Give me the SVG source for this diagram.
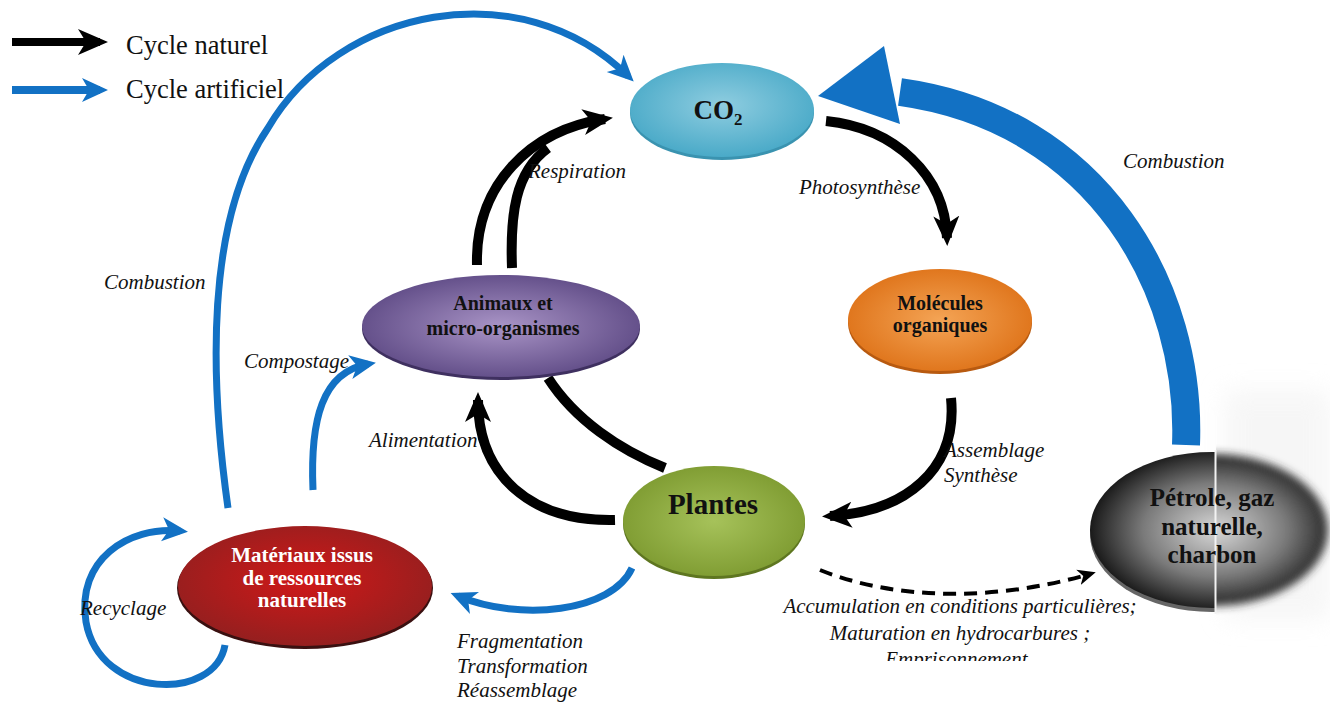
<svg xmlns="http://www.w3.org/2000/svg" width="1330" height="702" viewBox="0 0 1330 702">
<style>
.lbl{font-family:"Liberation Serif","Times New Roman",serif;font-style:italic;font-size:21px;fill:#111}
.leg{font-family:"Liberation Serif","Times New Roman",serif;font-size:26.5px;fill:#111}
.nt{font-family:"Liberation Serif","Times New Roman",serif;font-weight:bold;fill:#111;text-anchor:middle}
.blk{fill:none;stroke:#000;stroke-width:10}
.blu{fill:none;stroke:#1271c4;stroke-width:7}
</style>
<defs>
<radialGradient id="gCO2" cx="50%" cy="45%" r="55%"><stop offset="0" stop-color="#8fcde0"/><stop offset="1" stop-color="#4aaac8"/></radialGradient>
<radialGradient id="gAni" cx="50%" cy="50%" r="55%"><stop offset="0" stop-color="#a994c6"/><stop offset="1" stop-color="#5e4a85"/></radialGradient>
<radialGradient id="gMol" cx="50%" cy="50%" r="55%"><stop offset="0" stop-color="#f4a455"/><stop offset="1" stop-color="#de7218"/></radialGradient>
<radialGradient id="gPla" cx="50%" cy="50%" r="55%"><stop offset="0" stop-color="#a6c25a"/><stop offset="1" stop-color="#7d9a30"/></radialGradient>
<radialGradient id="gMat" cx="50%" cy="45%" r="55%"><stop offset="0" stop-color="#d01818"/><stop offset="1" stop-color="#951f1f"/></radialGradient>
<radialGradient id="gPet" cx="52%" cy="50%" r="55%"><stop offset="0" stop-color="#d8d8d8"/><stop offset="0.55" stop-color="#7a7a7a"/><stop offset="1" stop-color="#0c0c0c"/></radialGradient>
<filter id="blur" x="-20%" y="-20%" width="140%" height="140%"><feGaussianBlur stdDeviation="4"/></filter>
<filter id="soft" x="-30%" y="-30%" width="160%" height="160%"><feGaussianBlur stdDeviation="12"/></filter>
<clipPath id="leftHalf"><rect x="0" y="0" width="1215" height="702"/></clipPath>
<clipPath id="rightHalf"><rect x="1216" y="0" width="200" height="702"/></clipPath>
<clipPath id="bottomCut"><rect x="0" y="0" width="1330" height="661"/></clipPath>
<marker id="mBlk" markerUnits="userSpaceOnUse" markerWidth="30" markerHeight="30" viewBox="0 0 30 30" refX="22" refY="15" orient="auto"><path d="M0,2 L30,15 L0,28 L8,15 z" fill="#000"/></marker>
<marker id="mBlu" markerUnits="userSpaceOnUse" markerWidth="26" markerHeight="26" viewBox="0 0 26 26" refX="18" refY="13" orient="auto"><path d="M0,1 L26,13 L0,25 L7,13 z" fill="#1271c4"/></marker>
<marker id="mDash" markerUnits="userSpaceOnUse" markerWidth="18" markerHeight="18" viewBox="0 0 18 18" refX="12" refY="9" orient="auto"><path d="M0,1 L18,9 L0,17 L5,9 z" fill="#000"/></marker>
</defs>
<rect width="1330" height="702" fill="#fff"/>
<rect x="1225" y="390" width="105" height="230" fill="#f1f1f1" filter="url(#soft)" opacity="0.6"/>

<g id="legend">
<line x1="12" y1="42" x2="100" y2="42" stroke="#000" stroke-width="8" marker-end="url(#mBlk)"/>
<text class="leg" x="126" y="54">Cycle naturel</text>
<line x1="12" y1="90" x2="100" y2="90" stroke="#1271c4" stroke-width="8" marker-end="url(#mBlu)"/>
<text class="leg" x="126" y="98">Cycle artificiel</text>
</g>

<g id="connectors">
<path class="blk" d="M477,265 C475,185 530,130 605,119" marker-end="url(#mBlk)"/>
<path class="blk" d="M512,268 C510,215 515,172 548,148"/>
<path class="blk" d="M826,121 C895,128 945,175 947,238" marker-end="url(#mBlk)"/>
<path class="blk" d="M951,398 C958,470 905,512 830,516" marker-end="url(#mBlk)"/>
<path class="blk" d="M615,520 C530,522 478,475 478,400" marker-end="url(#mBlk)"/>
<path class="blk" d="M548,378 C575,420 620,450 665,468"/>
<path d="M820,570 C900,602 1000,600 1090,574" fill="none" stroke="#000" stroke-width="4" stroke-dasharray="13,8" marker-end="url(#mDash)"/>
<path d="M1186,445 C1192,290 1100,120 900,92" fill="none" stroke="#1271c4" stroke-width="28"/>
<polygon points="818,96 884,46 900,124" fill="#1271c4"/>
<path class="blu" d="M228,508 C210,380 205,220 268,128 C338,8 520,-30 628,76" marker-end="url(#mBlu)"/>
<path class="blu" d="M313,490 C310,420 322,372 368,364" marker-end="url(#mBlu)"/>
<path class="blu" d="M632,568 C612,612 520,622 458,596" marker-end="url(#mBlu)"/>
<path class="blu" d="M225,645 C215,702 100,700 86,622 C76,560 128,526 180,531" marker-end="url(#mBlu)"/>
</g>

<g id="labels">
<text class="lbl" x="528" y="178">Respiration</text>
<text class="lbl" x="799" y="194">Photosynthèse</text>
<text class="lbl" x="1123" y="168">Combustion</text>
<text class="lbl" x="104" y="289">Combustion</text>
<text class="lbl" x="244" y="368">Compostage</text>
<text class="lbl" x="369" y="447">Alimentation</text>
<text class="lbl" x="944" y="457">Assemblage</text>
<text class="lbl" x="944" y="482">Synthèse</text>
<text class="lbl" x="80" y="615">Recyclage</text>
<text class="lbl" x="457" y="648">Fragmentation</text>
<text class="lbl" x="457" y="673">Transformation</text>
<text class="lbl" x="457" y="697">Réassemblage</text>
<g clip-path="url(#bottomCut)">
<text class="lbl" x="960" y="613" text-anchor="middle">Accumulation en conditions particulières;</text>
<text class="lbl" x="960" y="640" text-anchor="middle">Maturation en hydrocarbures ;</text>
<text class="lbl" x="959" y="666" text-anchor="middle">Emprisonnement.</text>
</g>
</g>

<g id="node-co2">
<ellipse cx="722" cy="113" rx="92" ry="47" fill="#3a93b0"/>
<ellipse cx="722" cy="110" rx="92" ry="47" fill="url(#gCO2)"/>
<text class="nt" x="718" y="119" font-size="27">CO<tspan font-size="17" dy="6">2</tspan></text>
</g>

<g id="node-animaux">
<ellipse cx="501" cy="329" rx="139" ry="51" fill="#3f3060"/>
<ellipse cx="501" cy="326" rx="139" ry="51" fill="url(#gAni)"/>
<text class="nt" font-size="20" x="503" y="310">Animaux et</text>
<text class="nt" font-size="20" x="503" y="335">micro-organismes</text>
</g>

<g id="node-molecules">
<ellipse cx="940" cy="323" rx="92" ry="51" fill="#b85a10"/>
<ellipse cx="940" cy="320" rx="92" ry="51" fill="url(#gMol)"/>
<text class="nt" font-size="20" x="940" y="310">Molécules</text>
<text class="nt" font-size="20" x="940" y="332">organiques</text>
</g>

<g id="node-plantes">
<ellipse cx="714" cy="524" rx="91" ry="55" fill="#5e7620"/>
<ellipse cx="714" cy="521" rx="91" ry="55" fill="url(#gPla)"/>
<text class="nt" font-size="29" x="713" y="514">Plantes</text>
</g>

<g id="node-materiaux">
<ellipse cx="305" cy="588" rx="128" ry="61" fill="#3a1010"/>
<ellipse cx="305" cy="586" rx="127" ry="60" fill="url(#gMat)"/>
<text class="nt" font-size="21" x="302" y="562" style="fill:#fff">Matériaux issus</text>
<text class="nt" font-size="21" x="302" y="585" style="fill:#fff">de ressources</text>
<text class="nt" font-size="21" x="302" y="607" style="fill:#fff">naturelles</text>
</g>

<g id="node-petrole">
<g clip-path="url(#leftHalf)">
<ellipse cx="1212" cy="534" rx="122" ry="78" fill="#666"/>
<ellipse cx="1212" cy="530" rx="122" ry="78" fill="url(#gPet)"/>
</g>
<g clip-path="url(#rightHalf)">
<ellipse cx="1212" cy="530" rx="116" ry="76" fill="url(#gPet)" filter="url(#blur)"/>
</g>
<line x1="1215.5" y1="450" x2="1215.5" y2="614" stroke="#f2f2f2" stroke-width="2"/>
<text class="nt" font-size="25" x="1212" y="506">Pétrole, gaz</text>
<text class="nt" font-size="25" x="1212" y="535">naturelle,</text>
<text class="nt" font-size="25" x="1212" y="563">charbon</text>
</g>
</svg>
